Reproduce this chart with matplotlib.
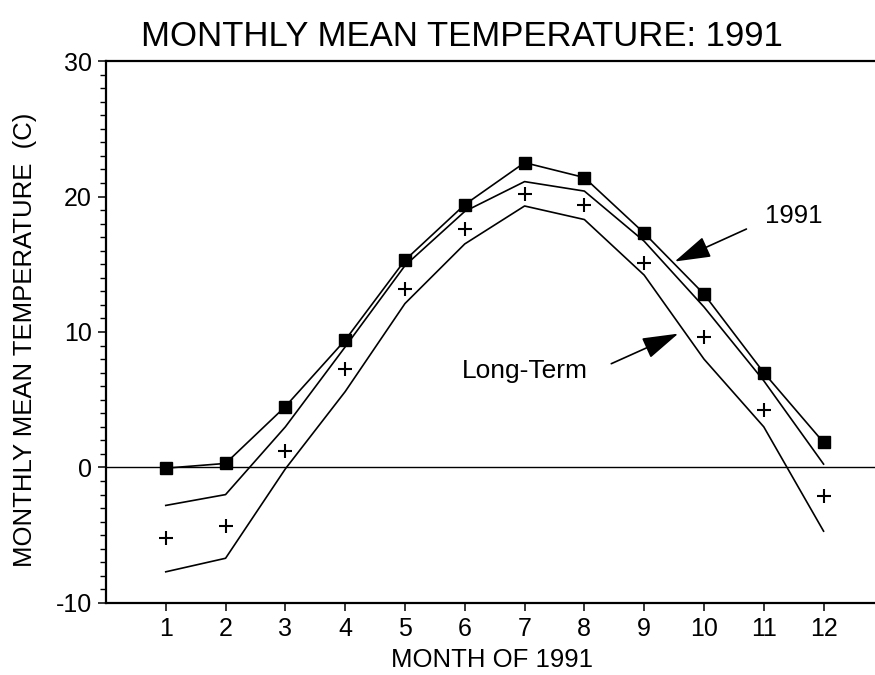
import matplotlib
matplotlib.use("Agg")
import matplotlib.pyplot as plt
from matplotlib.ticker import MultipleLocator

plt.rcParams['font.family'] = ['Liberation Sans', 'DejaVu Sans']
plt.rcParams['axes.unicode_minus'] = False

months = [1, 2, 3, 4, 5, 6, 7, 8, 9, 10, 11, 12]
t1991 = [-0.05, 0.3, 4.5, 9.4, 15.3, 19.4, 22.5, 21.4, 17.3, 12.8, 7.0, 1.85]
longterm = [-5.2, -4.3, 1.2, 7.3, 13.2, 17.6, 20.2, 19.4, 15.1, 9.6, 4.25, -2.1]
band_upper = [-2.8, -2.0, 3.0, 8.9, 14.9, 18.9, 21.1, 20.4, 16.7, 11.85, 6.4, 0.25]
band_lower = [-7.7, -6.7, -0.1, 5.6, 12.1, 16.5, 19.3, 18.3, 14.2, 8.0, 3.0, -4.7]
yticks = [-10, 0, 10, 20, 30]

fig = plt.figure(figsize=(8.75, 6.75), dpi=100)
ax = fig.add_axes([0.1211, 0.1067, 1.0 - 0.1211, 0.9096 - 0.1067])

ax.axhline(0, color='black', lw=1.0, zorder=1)
ax.plot(months, t1991, color='black', lw=1.2, marker='s', markersize=8.5,
        markerfacecolor='black', markeredgecolor='black', zorder=3)
ax.plot(months, band_upper, color='black', lw=1.2, zorder=2)
ax.plot(months, band_lower, color='black', lw=1.2, zorder=2)
ax.plot(months, longterm, linestyle='none', marker='+', markersize=10,
        markeredgewidth=1.5, color='black', zorder=3)

ax.set_xlim(0, 12.86)
ax.set_ylim(-10, 30)
ax.set_xticks(months)
ax.set_yticks(yticks)
ax.yaxis.set_minor_locator(MultipleLocator(1))
ax.tick_params(axis='both', which='major', direction='out', length=6, width=1.1,
               labelsize=18, pad=4)
ax.tick_params(axis='y', which='minor', direction='out', length=4, width=1.0)

for s in ['left', 'bottom', 'top']:
    ax.spines[s].set_linewidth(1.6)
ax.spines['right'].set_visible(False)

ax.set_xlabel('MONTH OF 1991', fontsize=18.5)
ax.xaxis.set_label_coords(0.502, -0.083)
ax.set_ylabel('MONTHLY MEAN TEMPERATURE  (C)', fontsize=18.5, va='center')
ax.yaxis.set_label_coords(-0.105, 0.485)

fig.text(0.528, 1 - 46 / 675, 'MONTHLY MEAN TEMPERATURE: 1991', fontsize=25,
         ha='center', va='baseline')

arrow = dict(arrowstyle='-|>,head_length=1.5,head_width=0.45', mutation_scale=15,
             color='black', lw=1.2, shrinkA=0, shrinkB=0)
ax.annotate('', xy=(9.51, 15.2), xytext=(10.71, 17.6), arrowprops=arrow)
ax.annotate('', xy=(9.57, 9.88), xytext=(8.45, 7.66), arrowprops=arrow)
ax.text(11.5, 18.05, '1991', fontsize=18.5, ha='center', va='baseline')
ax.text(7.0, 6.6, 'Long-Term', fontsize=19, ha='center', va='baseline')

fig.savefig('out.png', dpi=100)
